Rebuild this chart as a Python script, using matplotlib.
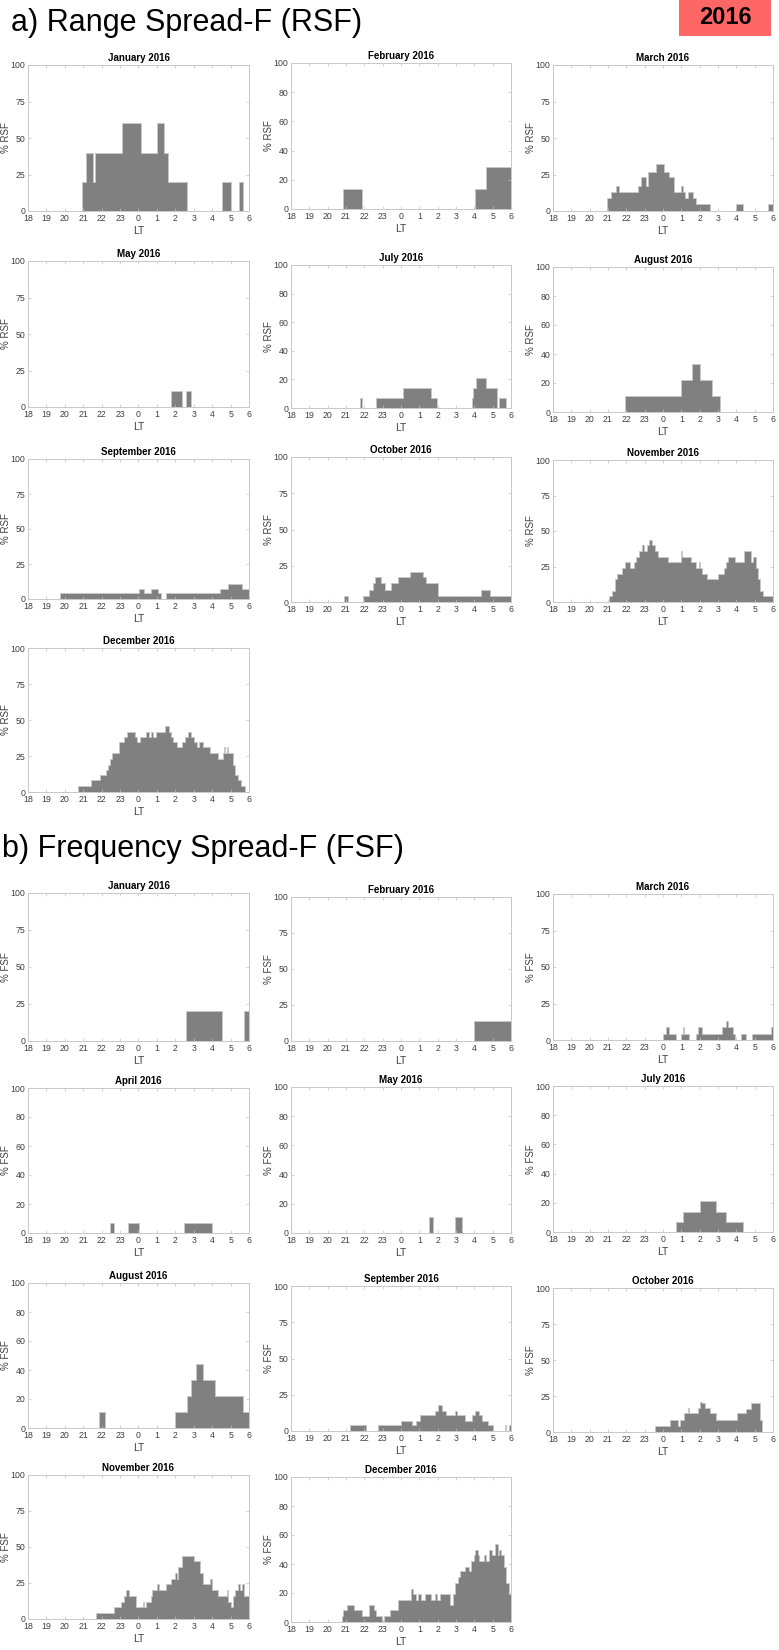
import matplotlib
matplotlib.use("Agg")
import matplotlib.pyplot as plt
from matplotlib.patches import Rectangle

plt.rcParams['font.family'] = ['Liberation Sans', 'DejaVu Sans']

# ---- data: each panel = segment start times (LT, 18..30) and % value of that segment
# ---- Range spread-F
rsf_jan_t = [18, 20.95, 21.13, 21.53, 21.64, 23.12, 24.12, 25.02, 25.38, 25.62, 26.62, 28.52, 29.04, 29.46, 29.69]
rsf_jan_v = [0, 20, 40, 20, 40, 60, 40, 60, 40, 20, 0, 20, 0, 20, 0]
rsf_feb_t = [18, 20.85, 21.85, 28.05, 28.65]
rsf_feb_v = [0, 14, 0, 14, 29]
rsf_mar_t = [18, 20.95, 21.15, 21.45, 21.6, 22.65, 22.8, 23.05, 23.2, 23.6, 24.05, 24.35, 24.6, 25.0, 25.1,
             25.2, 25.35, 25.65, 25.8, 26.55, 28.0, 28.35, 29.7]
rsf_mar_v = [0, 9, 13, 17, 13, 17, 23, 17, 27, 32, 27, 23, 13, 17, 13, 9, 13, 9, 5, 0, 5, 0, 5]
rsf_may_t = [18, 25.75, 26.35, 26.6, 26.85]
rsf_may_v = [0, 11, 0, 11, 0]
rsf_jul_t = [18, 21.75, 21.9, 22.65, 24.1, 25.65, 25.95, 27.85, 27.95, 28.1, 28.65, 29.25, 29.35, 29.7]
rsf_jul_v = [0, 7, 0, 7, 14, 7, 0, 7, 14, 21, 14, 0, 7, 0]
rsf_aug_t = [18, 21.9, 25.0, 25.6, 26.0, 26.65, 27.1]
rsf_aug_v = [0, 11, 22, 33, 22, 11, 0]
rsf_sep_t = [18, 19.75, 24.05, 24.3, 24.7, 25.05, 25.2, 25.5, 28.4, 28.85, 29.6]
rsf_sep_v = [0, 4, 7, 4, 7, 4, 0, 4, 7, 11, 7]
rsf_oct_t = [18, 20.9, 21.1, 21.95, 22.25, 22.45, 22.6, 22.9, 23.15, 23.45, 23.85, 24.5, 25.2, 25.35, 26.0,
             28.35, 28.85]
rsf_oct_v = [0, 4, 0, 4, 8, 13, 17, 13, 8, 13, 17, 21, 17, 13, 4, 8, 4]
rsf_nov_t = [18, 21.08, 21.2, 21.4, 21.5, 21.75, 21.95, 22.2, 22.4, 22.55, 22.7, 22.88, 22.95, 23.1, 23.25,
             23.4, 23.57, 23.73, 24.25, 24.97, 25.05, 25.55, 25.8, 25.95, 26.02, 26.15, 26.4, 27.0, 27.35,
             27.45, 27.55, 27.9, 28.4, 28.8, 28.9, 29.05, 29.2, 29.3, 29.45]
rsf_nov_v = [0, 4, 8, 16, 20, 24, 28, 24, 28, 32, 36, 40, 36, 40, 44, 40, 36, 32, 28, 36, 32, 28, 24, 28,
             24, 20, 16, 20, 24, 28, 32, 28, 36, 28, 32, 24, 16, 8, 4]
rsf_dec_t = [18, 20.7, 21.42, 21.91, 22.26, 22.34, 22.45, 22.58, 22.94, 23.2, 23.39, 23.8, 23.93, 24.07,
             24.39, 24.55, 24.69, 24.77, 24.96, 25.42, 25.63, 25.77, 25.9, 26.09, 26.36, 26.55, 26.71, 26.85,
             27.03, 27.17, 27.3, 27.49, 27.9, 28.3, 28.57, 28.65, 28.72, 28.78, 28.84, 29.11, 29.25, 29.41,
             29.57, 29.79]
rsf_dec_v = [0, 4, 8, 12, 15, 19, 23, 27, 35, 38, 42, 38, 35, 38, 42, 38, 42, 38, 42, 46, 42, 38, 35, 31,
             35, 38, 42, 38, 35, 31, 35, 31, 27, 23, 27, 31, 27, 31, 27, 19, 12, 8, 4, 0]

# ---- Frequency spread-F
fsf_jan_t = [18, 26.6, 28.55, 29.75]
fsf_jan_v = [0, 20, 0, 20]
fsf_feb_t = [18, 28.0]
fsf_feb_v = [0, 14]
fsf_mar_t = [18, 24.0, 24.15, 24.3, 24.7, 25.0, 25.1, 25.17, 25.4, 25.8, 25.9, 26.15, 27.2, 27.45, 27.52,
             27.8, 27.95, 28.25, 28.55, 28.85, 29.9]
fsf_mar_v = [0, 4, 9, 4, 0, 4, 9, 4, 0, 4, 9, 4, 9, 13, 9, 4, 0, 4, 0, 4, 9]
fsf_apr_t = [18, 22.45, 22.65, 23.45, 24.05, 26.45, 28.0]
fsf_apr_v = [0, 7, 0, 7, 0, 7, 0]
fsf_may_t = [18, 25.55, 25.75, 26.95, 27.35]
fsf_may_v = [0, 11, 0, 11, 0]
fsf_jul_t = [18, 24.7, 25.1, 26.0, 26.9, 27.45, 28.35]
fsf_jul_v = [0, 7, 14, 21, 14, 7, 0]
fsf_aug_t = [18, 21.85, 22.2, 26.0, 26.65, 26.85, 27.1, 27.5, 28.15, 29.7]
fsf_aug_v = [0, 11, 0, 11, 22, 33, 44, 33, 22, 11]
fsf_sep_t = [18, 21.2, 22.1, 22.75, 24.0, 24.6, 24.8, 25.05, 25.85, 26.0, 26.25, 26.45, 26.95, 27.05, 27.5,
             27.9, 28.05, 28.25, 28.4, 28.75, 29.0, 29.65, 29.72, 29.9]
fsf_sep_v = [0, 4, 0, 4, 7, 4, 7, 11, 14, 18, 14, 11, 14, 11, 7, 11, 14, 11, 7, 4, 0, 4, 0, 4]
fsf_oct_t = [18, 23.55, 24.4, 24.8, 24.95, 25.15, 25.35, 25.43, 25.9, 26.03, 26.15, 26.3, 26.57, 26.9, 28.05,
             28.5, 28.8, 29.27, 29.4]
fsf_oct_v = [0, 4, 8, 4, 8, 13, 17, 13, 17, 21, 20, 17, 13, 8, 13, 16, 20, 8, 0]
fsf_nov_t = [18, 21.69, 22.67, 23.04, 23.2, 23.31, 23.47, 23.85, 24.22, 24.28, 24.39, 24.66, 24.74, 25.03,
             25.09, 25.5, 25.74, 25.96, 26.09, 26.17, 26.36, 27.03, 27.36, 27.52, 27.9, 27.98, 28.3, 28.79,
             28.86, 29.0, 29.11, 29.25, 29.41, 29.52, 29.6, 29.73]
fsf_nov_v = [0, 4, 8, 12, 16, 20, 16, 8, 12, 8, 12, 16, 20, 24, 20, 24, 28, 32, 28, 36, 44, 40, 32, 24,
             28, 20, 16, 20, 12, 8, 16, 20, 24, 20, 24, 16]
fsf_dec_t = [18, 20.76, 20.84, 21.08, 21.43, 21.89, 22.24, 22.51, 22.65, 22.97, 23.08, 23.4, 23.86, 24.54,
             24.68, 24.81, 24.95, 25.08, 25.3, 25.62, 25.84, 25.95, 26.11, 26.7, 26.84, 26.92, 27.11, 27.24,
             27.51, 27.73, 27.84, 28.0, 28.05, 28.19, 28.27, 28.54, 28.65, 28.81, 28.95, 29.14, 29.27, 29.35,
             29.46, 29.62, 29.73, 29.89]
fsf_dec_v = [0, 4, 8, 12, 8, 4, 12, 8, 4, 0, 4, 8, 15, 23, 19, 15, 19, 15, 19, 15, 19, 15, 19, 12, 19, 27,
             31, 35, 38, 35, 42, 46, 50, 46, 42, 46, 42, 50, 46, 54, 46, 50, 46, 38, 27, 19]

hours = list(range(18, 31))
hour_labels = [str(h % 24) for h in hours]

# panel list: title, starts, values, y tick step, ylabel, rect in pixels (left, top, right, bottom)
panels = [
    ("January 2016", rsf_jan_t, rsf_jan_v, 25, "% RSF", (28, 65, 249, 211)),
    ("February 2016", rsf_feb_t, rsf_feb_v, 20, "% RSF", (291, 63, 511, 209)),
    ("March 2016", rsf_mar_t, rsf_mar_v, 25, "% RSF", (553, 65, 773, 211)),
    ("May 2016", rsf_may_t, rsf_may_v, 25, "% RSF", (28, 261, 249, 407)),
    ("July 2016", rsf_jul_t, rsf_jul_v, 20, "% RSF", (291, 265, 511, 408)),
    ("August 2016", rsf_aug_t, rsf_aug_v, 20, "% RSF", (553, 267, 773, 412)),
    ("September 2016", rsf_sep_t, rsf_sep_v, 25, "% RSF", (28, 459, 249, 599)),
    ("October 2016", rsf_oct_t, rsf_oct_v, 25, "% RSF", (291, 457, 511, 602)),
    ("November 2016", rsf_nov_t, rsf_nov_v, 25, "% RSF", (553, 460, 773, 602)),
    ("December 2016", rsf_dec_t, rsf_dec_v, 25, "% RSF", (28, 648, 249, 792)),
    ("January 2016", fsf_jan_t, fsf_jan_v, 25, "% FSF", (28, 893, 249, 1041)),
    ("February 2016", fsf_feb_t, fsf_feb_v, 25, "% FSF", (291, 897, 511, 1041)),
    ("March 2016", fsf_mar_t, fsf_mar_v, 25, "% FSF", (553, 894, 773, 1040)),
    ("April 2016", fsf_apr_t, fsf_apr_v, 20, "% FSF", (28, 1088, 249, 1233)),
    ("May 2016", fsf_may_t, fsf_may_v, 20, "% FSF", (291, 1087, 511, 1233)),
    ("July 2016", fsf_jul_t, fsf_jul_v, 20, "% FSF", (553, 1086, 773, 1232)),
    ("August 2016", fsf_aug_t, fsf_aug_v, 20, "% FSF", (28, 1283, 249, 1428)),
    ("September 2016", fsf_sep_t, fsf_sep_v, 25, "% FSF", (291, 1286, 511, 1431)),
    ("October 2016", fsf_oct_t, fsf_oct_v, 25, "% FSF", (553, 1288, 773, 1432)),
    ("November 2016", fsf_nov_t, fsf_nov_v, 25, "% FSF", (28, 1475, 249, 1619)),
    ("December 2016", fsf_dec_t, fsf_dec_v, 20, "% FSF", (291, 1477, 511, 1622)),
]

W, H = 779, 1650
fig = plt.figure(figsize=(W / 100, H / 100), dpi=100)
narrow = ['Liberation Sans Narrow', 'Liberation Sans', 'DejaVu Sans']

for title, t, v, ystep, ylab, (l, tp, r, b) in panels:
    ax = fig.add_axes([l / W, 1 - b / H, (r - l) / W, (b - tp) / H])
    ax.stairs(v, list(t) + [30], fill=True, baseline=0,
              facecolor='#808080', edgecolor='#c8c8c8', linewidth=0.6)
    ax.set_xlim(18, 30)
    ax.set_ylim(0, 100)
    ax.set_xticks(hours)
    ax.set_xticklabels(hour_labels, family=narrow)
    yt = list(range(0, 101, ystep))
    ax.set_yticks(yt)
    ax.set_yticklabels([str(y) for y in yt], family=narrow)
    ax.tick_params(direction='in', length=2.5, width=0.5, colors='#c0c0c0',
                   labelcolor='#404040', labelsize=6.3, pad=2, top=True, right=True)
    for s in ax.spines.values():
        s.set_color('#c8c8c8')
        s.set_linewidth(0.7)
    ax.set_title(title, fontsize=7, fontweight='bold', family=narrow, pad=3)
    ax.set_ylabel(ylab, fontsize=7, color='#404040')
    ax.yaxis.set_label_coords(-17 / (r - l), 0.5)
    ax.set_xlabel("LT", fontsize=7.5, color='#404040', labelpad=2)

fig.text(11 / W, 1 - 31 / H, "a) Range Spread-F (RSF)", fontsize=22, va='baseline', ha='left')
fig.text(2 / W, 1 - 857 / H, "b) Frequency Spread-F (FSF)", fontsize=22, va='baseline', ha='left')

fig.patches.append(Rectangle((679 / W, 1 - 36 / H), 92 / W, 36 / H, transform=fig.transFigure,
                             facecolor='#ff6666', edgecolor='none'))
fig.text(725 / W, 1 - 18 / H, "2016", fontsize=17, fontweight='bold', ha='center', va='center')

fig.savefig("out.png", dpi=100)
